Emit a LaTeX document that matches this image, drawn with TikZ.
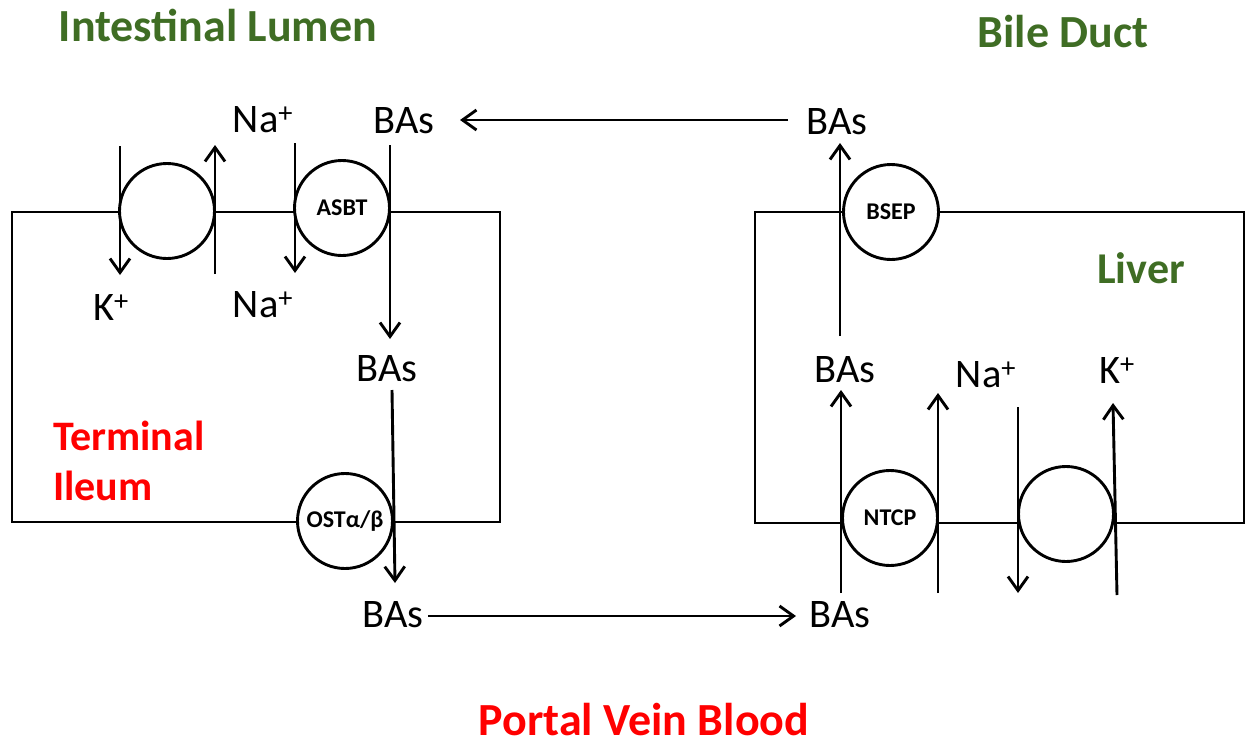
\documentclass[tikz,border=0pt]{standalone}
\usepackage{fontspec}
\setmainfont{Carlito}
\usetikzlibrary{arrows.meta}
\definecolor{titlegreen}{HTML}{3F6D24}
\definecolor{labelred}{HTML}{FF0000}
\tikzset{
  lbl/.style={inner sep=0pt, anchor=base, font=\fontsize{40.5}{48}\selectfont},
  greentitle/.style={inner sep=0pt, anchor=base, text=titlegreen, font=\fontsize{46}{54}\selectfont\bfseries},
  redtitle/.style={inner sep=0pt, text=labelred, font=\fontsize{42}{50}\selectfont\bfseries},
  transporter/.style={circle, draw, fill=white, line width=2.9pt, minimum size=95pt, inner sep=0pt, font=\fontsize{24}{28}\selectfont\bfseries},
  membrane/.style={line width=2.9pt},
  flow/.style={line width=2.9pt, -{Straight Barb[length=14pt,width=20pt]}},
}
\begin{document}
\begin{tikzpicture}[x=1pt,y=-1pt]
\useasboundingbox (0,0) rectangle (1248,744);
% compartments
\draw[membrane] (12,212) rectangle (500,522);
\draw[membrane] (755,212) rectangle (1244,523);
% transporters
\node[transporter] (pumpL) at (167,211) {};
\node[transporter] (asbt) at (342,208) {ASBT};
\node[transporter] (ost) at (345,521) {OSTα/β};
\node[transporter] (bsep) at (891,212) {BSEP};
\node[transporter] (ntcp) at (890,518) {NTCP};
\node[transporter] (pumpR) at (1066,514) {};
% titles
\node[greentitle] (lumen) at (218,41) {Intestinal Lumen};
\node[greentitle] (bile) at (1063,47) {Bile Duct};
\node[greentitle, font=\fontsize{44}{52}\selectfont\bfseries] (liver) at (1141,283) {Liver};
\node[redtitle, anchor=base west] (term) at (53,450) {Terminal};
\node[redtitle, anchor=base west] (ileum) at (53,500) {Ileum};
\node[redtitle, anchor=base, font=\fontsize{46}{54}\selectfont\bfseries] (portal) at (644,735) {Portal Vein Blood};
% ion / BA labels
\node[lbl] (naTL) at (263,132) {Na\textsuperscript{+}};
\node[lbl] (basTL) at (404,133) {BAs};
\node[lbl] (kL) at (111,320) {K\textsuperscript{+}};
\node[lbl] (naBL) at (263,317) {Na\textsuperscript{+}};
\node[lbl] (basML) at (387,381) {BAs};
\node[lbl] (basBL) at (393,627) {BAs};
\node[lbl] (basTR) at (837,134) {BAs};
\node[lbl] (basMR) at (845,382) {BAs};
\node[lbl] (naR) at (986,387) {Na\textsuperscript{+}};
\node[lbl] (kR) at (1117,383) {K\textsuperscript{+}};
\node[lbl] (basBR) at (840,627) {BAs};
% arrow end points
\coordinate (k1a) at (120,146);  \coordinate (k1b) at (120,275);
\coordinate (n1a) at (215,274);  \coordinate (n1b) at (215,145);
\coordinate (n2a) at (295,143);  \coordinate (n2b) at (295,273);
\coordinate (b1a) at (390,145);  \coordinate (b1b) at (390,339);
\coordinate (b2a) at (392,390);  \coordinate (b2b) at (395,583);
\coordinate (b3a) at (840,336);  \coordinate (b3b) at (840,143);
\coordinate (b4a) at (841,593);  \coordinate (b4b) at (841,390);
\coordinate (n3a) at (938,593);  \coordinate (n3b) at (938,393);
\coordinate (n4a) at (1018,407); \coordinate (n4b) at (1018,593);
\coordinate (k2a) at (1117,595); \coordinate (k2b) at (1113,403);
\coordinate (topA) at (788,120); \coordinate (topB) at (460,120);
\coordinate (botA) at (428,616); \coordinate (botB) at (796,616);
% flows
\draw[flow] (k1a) -- (k1b);
\draw[flow] (n1a) -- (n1b);
\draw[flow] (n2a) -- (n2b);
\draw[flow] (b1a) -- (b1b);
\draw[flow] (b2a) -- (b2b);
\draw[flow] (b3a) -- (b3b);
\draw[flow] (b4a) -- (b4b);
\draw[flow] (n3a) -- (n3b);
\draw[flow] (n4a) -- (n4b);
\draw[flow] (k2a) -- (k2b);
\draw[flow] (topA) -- (topB);
\draw[flow] (botA) -- (botB);
\end{tikzpicture}
\end{document}
